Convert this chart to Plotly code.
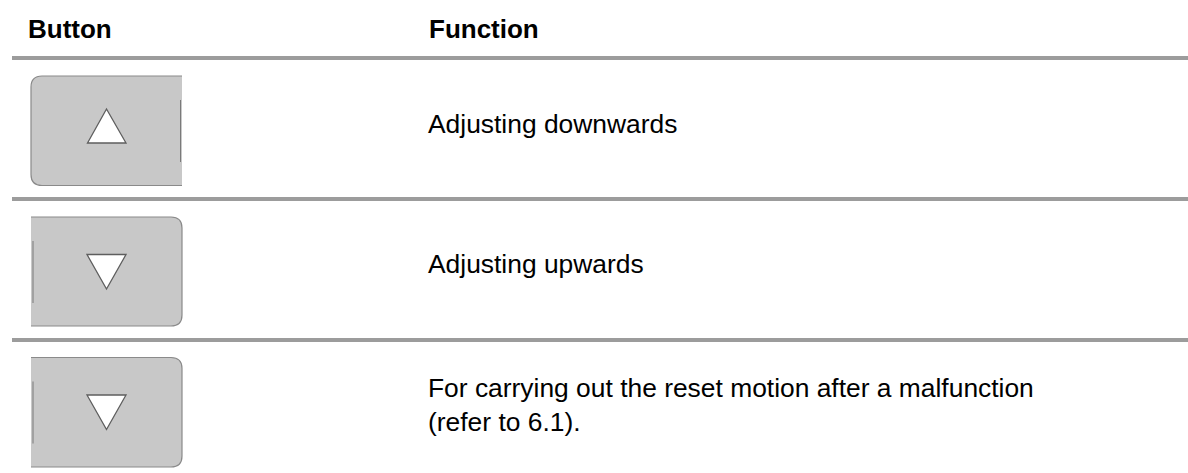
import plotly.graph_objects as go

headers = ["Button", "Function"]
header_x = [26, 426.5]
header_y = 29
rule_y = [58, 199, 340]
rule_x = [12, 1188]
button_top = [76, 217, 357.5]
button_bottom = [185.5, 326, 467]
button_left = 31
button_right = 182
directions = ["up", "down", "down"]
functions = [["Adjusting downwards"], ["Adjusting upwards"],
             ["For carrying out the reset motion after a malfunction", "(refer to 6.1)."]]
text_y = [[123.5], [264], [388.3, 421.8]]
text_x = 426
radius = 11
FONT = "Liberation Sans"

shapes, annotations = [], []


def line(x0, y0, x1, y1, color, width):
    shapes.append(dict(type="line", x0=x0, y0=y0, x1=x1, y1=y1,
                       line=dict(color=color, width=width), layer="above"))


for y in rule_y:
    line(rule_x[0], y, rule_x[1], y, "#9c9c9c", 4)

for t, b, d in zip(button_top, button_bottom, directions):
    l, r, k = button_left, button_right, radius
    fill = "#c8c8c8"
    edge = "#8a8a8a"
    if d == "up":
        body = f"M{r},{t} L{l+k},{t} Q{l},{t} {l},{t+k} L{l},{b-k} Q{l},{b} {l+k},{b} L{r},{b} Z"
        outline = f"M{r},{t} L{l+k},{t} Q{l},{t} {l},{t+k} L{l},{b-k} Q{l},{b} {l+k},{b} L{r},{b}"
        tick_x = r - 1.5
        tri = [(87.5, t + 67), (126, t + 67), (106.5, t + 33)]
    else:
        body = f"M{l},{t} L{r-k},{t} Q{r},{t} {r},{t+k} L{r},{b-k} Q{r},{b} {r-k},{b} L{l},{b} Z"
        outline = f"M{l},{t} L{r-k},{t} Q{r},{t} {r},{t+k} L{r},{b-k} Q{r},{b} {r-k},{b} L{l},{b}"
        tick_x = l + 2
        tri = [(87, t + 37.5), (126, t + 37.5), (106.5, t + 72)]
    shapes.append(dict(type="path", path=body, fillcolor=fill, line=dict(width=0), layer="above"))
    shapes.append(dict(type="path", path=outline, line=dict(color=edge, width=1.2), layer="above"))
    line(tick_x, t + 24, tick_x, t + 86, "#7a7a7a", 1)
    p = "M" + " L".join(f"{x},{y}" for x, y in tri) + " Z"
    shapes.append(dict(type="path", path=p, fillcolor="white",
                       line=dict(color="#5e5e5e", width=1.3), layer="above"))

for h, x in zip(headers, header_x):
    annotations.append(dict(x=x, y=header_y, text=f"<b>{h}</b>", showarrow=False, xanchor="left",
                            yanchor="middle", font=dict(family=FONT, size=26, color="#000")))
for lines, ys in zip(functions, text_y):
    for s, y in zip(lines, ys):
        annotations.append(dict(x=text_x, y=y, text=s, showarrow=False, xanchor="left",
                                yanchor="middle", font=dict(family=FONT, size=26.4, color="#000")))

fig = go.Figure()
fig.update_layout(
    width=1188, height=473, margin=dict(l=0, r=0, t=0, b=0),
    paper_bgcolor="white", plot_bgcolor="white", showlegend=False,
    xaxis=dict(range=[0, 1188], visible=False, fixedrange=True),
    yaxis=dict(range=[473, 0], visible=False, fixedrange=True),
    shapes=shapes, annotations=annotations,
)
fig.write_html("out.html", config=dict(displayModeBar=False),
               post_script="document.body.style.margin='0';document.documentElement.style.overflow='hidden';")
